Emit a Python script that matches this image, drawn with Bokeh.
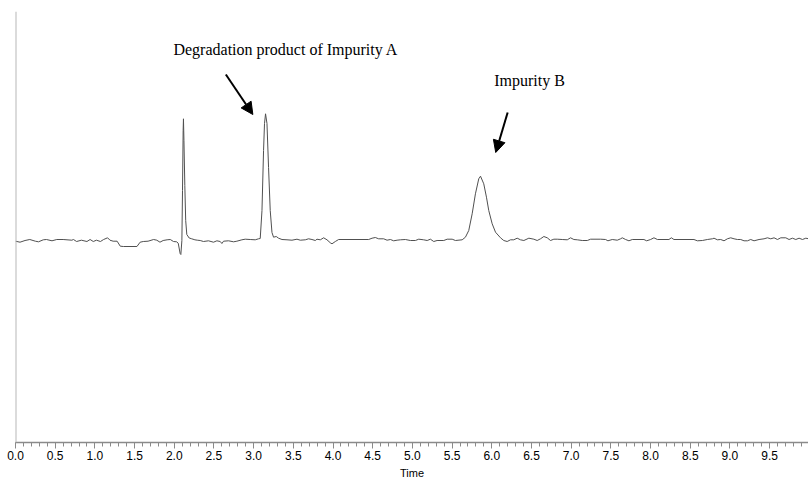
from bokeh.plotting import figure
from bokeh.models import Range1d, SingleIntervalTicker, PrintfTickFormatter, Label, Arrow, NormalHead, Span
from bokeh.embed import file_html
from bokeh.resources import INLINE

# Chromatogram trace: time (min) and detector signal (arbitrary units)
time = [0.00, 0.057, 0.12, 0.18, 0.25, 0.29, 0.35, 0.39, 0.46, 0.52, 0.60, 0.71, 0.73, 0.77, 0.83, 0.90,
        0.94, 0.98, 1.02, 1.07, 1.11, 1.16, 1.19, 1.23, 1.28, 1.32, 1.36, 1.53, 1.57, 1.61, 1.67, 1.74,
        1.78, 1.82, 1.86, 1.91, 1.95, 1.99, 2.03, 2.05, 2.074, 2.083, 2.096, 2.104, 2.112, 2.116, 2.122,
        2.133, 2.144, 2.158, 2.188, 2.22, 2.26, 2.29, 2.327, 2.368, 2.431, 2.494, 2.537, 2.579, 2.600,
        2.621, 2.684, 2.747, 2.789, 2.852, 2.894, 2.957, 3.020, 3.062, 3.083, 3.105, 3.125, 3.137, 3.150,
        3.168, 3.188, 3.209, 3.231, 3.251, 3.285, 3.314, 3.357, 3.420, 3.483, 3.546, 3.588, 3.651, 3.692,
        3.735, 3.777, 3.798, 3.840, 3.882, 3.924, 3.966, 3.987, 4.029, 4.071, 4.449, 4.492, 4.533, 4.575,
        4.638, 4.681, 4.723, 4.764, 4.807, 4.849, 4.912, 4.975, 5.038, 5.080, 5.142, 5.186, 5.227, 5.269,
        5.311, 5.395, 5.438, 5.501, 5.542, 5.627, 5.668, 5.710, 5.753, 5.794, 5.836, 5.858, 5.899, 5.933,
        5.962, 6.005, 6.047, 6.110, 6.151, 6.194, 6.236, 6.277, 6.320, 6.362, 6.404, 6.467, 6.530, 6.572,
        6.614, 6.656, 6.699, 6.740, 6.782, 6.825, 6.888, 6.951, 6.992, 7.034, 7.077, 7.140, 7.203, 7.245,
        7.371, 7.434, 7.463, 7.518, 7.581, 7.623, 7.644, 7.686, 7.728, 7.770, 7.917, 7.951, 8.001, 8.043,
        8.086, 8.232, 8.262, 8.295, 8.547, 8.590, 8.653, 8.716, 8.779, 8.800, 8.842, 8.884, 8.926, 8.968,
        9.010, 9.052, 9.094, 9.136, 9.178, 9.221, 9.262, 9.304, 9.367, 9.430, 9.473, 9.515, 9.556, 9.599,
        9.641, 9.704, 9.745, 9.788, 9.830, 9.871, 9.914, 9.956, 9.994]
signal = [-0.07, -0.17, 0.0, 0.10, -0.07, -0.13, 0.07, 0.10, -0.03, 0.10, 0.10, 0.03, 0.10, -0.10, 0.03, -0.10,
          0.10, -0.10, 0.03, -0.10, 0.10, 0.27, 0.03, -0.07, -0.07, -0.57, -0.60, -0.60, -0.17, -0.10, -0.07, 0.10,
          0.03, -0.17, 0.0, 0.07, 0.10, -0.10, -0.13, -0.27, -1.3, -1.4, 0.0, 5.0, 11.0, 12.17, 10.0,
          5.5, 2.0, 0.6, 0.25, 0.17, 0.07, 0.03, 0.0, -0.10, -0.03, -0.17, -0.03, -0.10, -0.30,
          -0.07, -0.03, -0.13, -0.07, 0.07, 0.13, 0.10, 0.07, 0.17, 0.20, 3.0, 9.0, 11.7, 12.67,
          11.7, 7.3, 3.0, 0.8, 0.33, 0.40, 0.23, 0.10, 0.07, 0.03, 0.13, 0.03, 0.07, 0.17,
          0.10, 0.0, 0.13, 0.07, 0.27, 0.07, -0.23, -0.33, -0.10, 0.10, 0.10, 0.23, 0.30, 0.17,
          0.17, 0.03, 0.10, -0.03, 0.03, 0.07, 0.10, 0.0, 0.0, 0.13, 0.07, 0.0, 0.13, -0.10,
          0.0, 0.0, 0.13, 0.13, 0.0, 0.07, 0.33, 1.0, 2.67, 4.67, 6.17, 6.43, 5.67, 4.33,
          3.0, 1.67, 0.83, 0.27, 0.0, -0.10, 0.07, 0.07, 0.23, 0.07, 0.0, 0.23, 0.13, 0.0,
          0.17, 0.40, 0.27, 0.0, 0.13, 0.13, 0.10, 0.07, 0.27, 0.10, 0.07, 0.0, 0.0, 0.13,
          0.13, 0.10, -0.03, 0.10, 0.03, 0.17, 0.27, 0.10, -0.03, 0.10, 0.10, -0.03, 0.10, 0.27,
          0.10, 0.10, 0.27, 0.10, 0.10, -0.03, 0.0, 0.10, 0.17, 0.23, 0.07, 0.10, -0.03, 0.17,
          0.27, 0.17, 0.10, 0.10, -0.03, -0.03, 0.10, -0.03, 0.10, 0.17, 0.27, 0.17, 0.27, 0.10,
          0.27, 0.27, 0.10, 0.23, 0.10, 0.23, 0.10, 0.23, 0.17]

annotation_a = "Degradation product of Impurity A"
annotation_b = "Impurity B"
axis_title = "Time"

p = figure(width=808, height=482, output_backend="svg", toolbar_location=None,
           x_range=Range1d(0, 9.99), y_range=Range1d(-20.2, 22.9),
           min_border_left=15, min_border_right=0, min_border_top=11, min_border_bottom=40)
p.outline_line_color = None
p.grid.visible = False
p.background_fill_color = "white"
p.border_fill_color = "white"

p.line(time, signal, line_color="#505050", line_width=1)

# x axis
xa = p.xaxis[0]
xa.ticker = SingleIntervalTicker(interval=0.5, num_minor_ticks=5)
xa.formatter = PrintfTickFormatter(format="%.1f")
xa.axis_line_color = "#8a8a8a"
xa.axis_line_width = 1.5
xa.major_tick_line_color = "#8a8a8a"
xa.minor_tick_line_color = "#8a8a8a"
xa.major_tick_in = 0
xa.major_tick_out = 6
xa.minor_tick_in = 0
xa.minor_tick_out = 4
xa.major_label_text_font = "Liberation Sans"
xa.major_label_text_font_size = "12px"
xa.major_label_text_color = "black"
xa.major_label_standoff = 2
xa.axis_label = axis_title
xa.axis_label_text_font = "Liberation Sans"
xa.axis_label_text_font_size = "11px"
xa.axis_label_text_font_style = "normal"
xa.axis_label_text_color = "black"
xa.axis_label_standoff = 4

# y axis: bare line only
p.yaxis.visible = False
p.add_layout(Span(location=0, dimension="height", line_color="#b8b8b8", line_width=2))

# annotations
p.add_layout(Label(x=1.99, y=19.07, text=annotation_a, text_font="Liberation Serif",
                   text_font_size="16px", text_color="black", text_baseline="alphabetic"))
p.add_layout(Label(x=6.03, y=16.0, text=annotation_b, text_font="Liberation Serif",
                   text_font_size="16px", text_color="black", text_baseline="alphabetic"))
p.add_layout(Arrow(x_start=2.65, y_start=16.6, x_end=2.99, y_end=12.6, line_width=2, line_color="black",
                   end=NormalHead(size=12, fill_color="black", line_color="black")))
p.add_layout(Arrow(x_start=6.20, y_start=12.8, x_end=6.05, y_end=8.8, line_width=2, line_color="black",
                   end=NormalHead(size=12, fill_color="black", line_color="black")))

open("out.html", "w").write(file_html(p, INLINE))
